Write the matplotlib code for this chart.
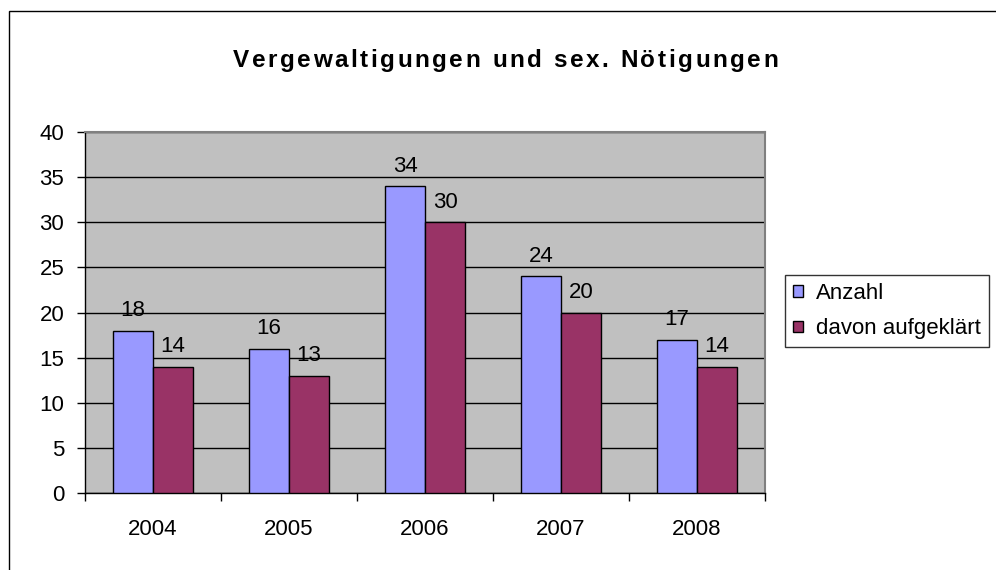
import matplotlib
matplotlib.use("Agg")
import matplotlib.pyplot as plt
import numpy as np
from matplotlib.patches import Rectangle
from matplotlib.font_manager import FontProperties, findfont, get_font

years = ["2004", "2005", "2006", "2007", "2008"]
anzahl = [18, 16, 34, 24, 17]
aufgeklaert = [14, 13, 30, 20, 14]
series_names = ["Anzahl", "davon aufgeklärt"]
title = "Vergewaltigungen und sex. Nötigungen"

plt.rcParams['font.family'] = ['Liberation Sans', 'DejaVu Sans']
FS = 16
DPI = 100

W, H = 996, 570
fig = plt.figure(figsize=(W/DPI, H/DPI), dpi=DPI)
fig.patch.set_facecolor('white')

# figure border (only left and top visible)
fig.add_artist(Rectangle((8.5/W, -0.1), 1.2, (H - 11)/H + 0.1, transform=fig.transFigure,
                         fill=False, edgecolor='black', linewidth=1.0))

left, right, top, bottom = 85, 765, 132, 493
ax = fig.add_axes([left/W, 1 - bottom/H, (right-left)/W, (bottom-top)/H])
ax.set_facecolor('#C0C0C0')

x = np.arange(len(years))
bw = 40/136
b1 = ax.bar(x - bw/2, anzahl, bw, color='#9999FF', edgecolor='black', linewidth=1.0, zorder=3,
            label=series_names[0])
b2 = ax.bar(x + bw/2, aufgeklaert, bw, color='#993366', edgecolor='black', linewidth=1.0, zorder=3,
            label=series_names[1])

for bars, vals in ((b1, anzahl), (b2, aufgeklaert)):
    for r, v in zip(bars, vals):
        ax.text(r.get_x() + r.get_width()/2, v + 1.6, str(v), ha='center', va='baseline',
                fontsize=FS, zorder=4)

ax.set_xlim(-0.5, len(years) - 0.5)
ax.set_ylim(0, 40)
ax.set_yticks(range(0, 41, 5))
ax.set_yticklabels([str(v) for v in range(0, 41, 5)], fontsize=FS)
ax.yaxis.grid(True, color='black', linewidth=1.0, zorder=1)
ax.set_axisbelow(True)

ax.set_xticks(x)
ax.set_xticklabels(years, fontsize=FS)
ax.tick_params(axis='x', length=0, pad=19)
ax.set_xticks(np.arange(-0.5, len(years)), minor=True)
ax.tick_params(axis='x', which='minor', length=6, width=1, direction='out', color='black')
ax.tick_params(axis='y', length=6, width=1, direction='out', pad=9)

for s in ('left', 'bottom'):
    ax.spines[s].set_color('black')
    ax.spines[s].set_linewidth(1.0)
for s in ('top', 'right'):
    ax.spines[s].set_color('#808080')
    ax.spines[s].set_linewidth(1.5)

# title with slightly widened letter spacing (as in the reference)
TFS = 17.5
tfp = FontProperties(family='Liberation Sans', weight='bold', size=TFS)
font = get_font(findfont(tfp))
font.set_size(TFS, DPI)
widths = [font.load_char(ord(ch)).linearHoriAdvance / 65536.0 for ch in title]
x0, x1 = 233.0, 778.0
extra = max(0.0, ((x1 - x0) - sum(widths)) / (len(title) - 1))
cx = x0
for ch, w in zip(title, widths):
    if ch != ' ':
        fig.text(cx / W, 1 - 67/H, ch, ha='left', va='baseline', fontsize=TFS,
                 fontweight='bold', family='Liberation Sans')
    cx += w + extra

leg = fig.legend(loc='upper left', bbox_to_anchor=(785/W, 1 - 275/H), fontsize=FS, frameon=True,
                 fancybox=False, edgecolor='black', handlelength=0.45, handleheight=0.45,
                 handletextpad=0.6, borderpad=0.35, labelspacing=0.66, borderaxespad=0)
leg.get_frame().set_linewidth(1.0)

fig.savefig('out.png', dpi=DPI)
